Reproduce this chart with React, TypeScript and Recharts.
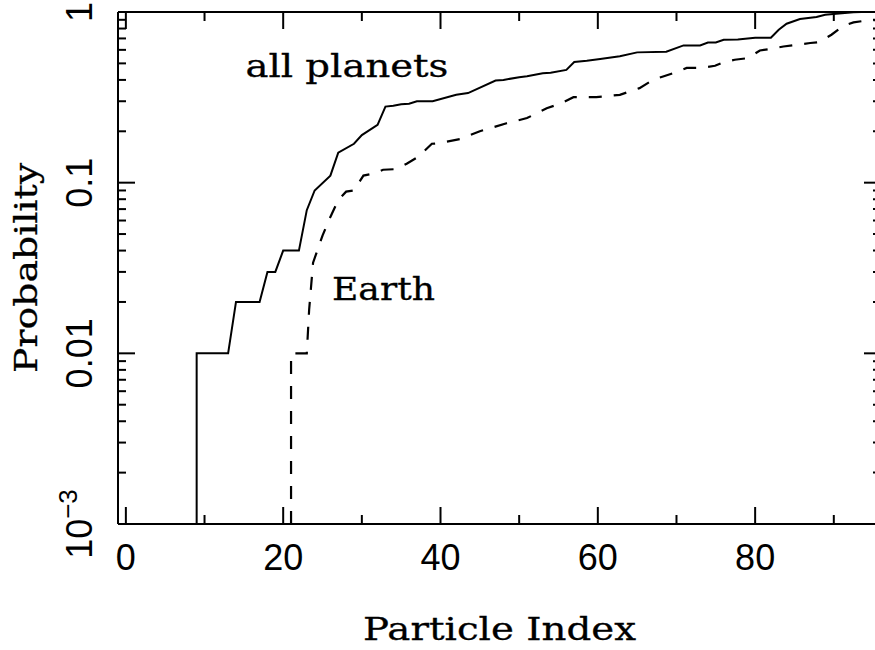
import React from "react";
import { LineChart, Line, XAxis, YAxis, ReferenceDot, Label } from "recharts";

// Cumulative probability vs particle index
const allIndex = [9, 9, 13, 14, 17, 18, 19, 20, 22, 23, 24, 26, 27, 29, 30, 32, 33, 34, 35, 36, 37, 39, 42, 43.5, 47, 48, 50, 51, 53, 54, 56, 57, 58.6, 60.3, 62.8, 65, 68.7, 70.9, 73, 74, 75, 76, 77.8, 80, 82, 83, 84, 85.7, 87.8, 88.9, 90.3, 92.5, 93.5, 96];
const allProb = [0.001, 0.01, 0.01, 0.02, 0.02, 0.03, 0.03, 0.04, 0.04, 0.069, 0.09, 0.11, 0.15, 0.169, 0.19, 0.218, 0.279, 0.282, 0.288, 0.29, 0.3, 0.3, 0.327, 0.335, 0.397, 0.4, 0.415, 0.42, 0.438, 0.44, 0.458, 0.509, 0.518, 0.53, 0.55, 0.58, 0.585, 0.637, 0.637, 0.663, 0.663, 0.688, 0.69, 0.707, 0.707, 0.787, 0.854, 0.91, 0.935, 0.964, 0.977, 0.995, 1, 1];

const earthIndex = [21, 21, 23, 23.3, 23.8, 24.5, 25, 26, 27, 28, 29, 30.2, 31.5, 32.7, 34.3, 35.7, 37.2, 38.9, 39.7, 42.5, 45, 48.4, 51, 53.5, 55.2, 56.9, 59.8, 62.8, 65.3, 67, 68.3, 70, 71.3, 73, 74.9, 75.9, 77.4, 79.1, 80.6, 81.9, 83.6, 85.3, 87, 88.2, 89.7, 91.2, 92.5, 94.2, 96];
const earthProb = [0.001, 0.01, 0.01, 0.018, 0.034, 0.042, 0.049, 0.063, 0.079, 0.0886, 0.09, 0.11, 0.113, 0.119, 0.12, 0.129, 0.142, 0.169, 0.17, 0.18, 0.2, 0.223, 0.239, 0.273, 0.29, 0.317, 0.317, 0.327, 0.358, 0.4, 0.419, 0.445, 0.47, 0.47, 0.484, 0.506, 0.525, 0.537, 0.595, 0.607, 0.628, 0.643, 0.658, 0.667, 0.736, 0.83, 0.869, 0.893, 0.9];

const xTicks = [0, 10, 20, 30, 40, 50, 60, 70, 80, 90];
const xMajor = [0, 20, 40, 60, 80];
const yTicks = [
  0.001, 0.002, 0.003, 0.004, 0.005, 0.006, 0.007, 0.008, 0.009,
  0.01, 0.02, 0.03, 0.04, 0.05, 0.06, 0.07, 0.08, 0.09,
  0.1, 0.2, 0.3, 0.4, 0.5, 0.6, 0.7, 0.8, 0.9, 1,
];
const yTickLabels: Record<string, string> = { "1": "1", "0.1": "0.1", "0.01": "0.01", "0.001": "10^-3" };

const allData = allIndex.map((x, i) => ({ x, p: allProb[i] }));
const earthData = earthIndex.map((x, i) => ({ x, p: earthProb[i] }));

const SERIF = "'DejaVu Serif', serif";
const SANS = "'Liberation Sans', Arial, sans-serif";

const isMajorY = (v: number) => {
  const l = Math.log10(v);
  return Math.abs(l - Math.round(l)) < 1e-6;
};

const BottomTick = (props: any) => {
  const { x, y, payload } = props;
  const major = xMajor.includes(payload.value);
  return (
    <g>
      <line x1={x} x2={x} y1={y} y2={y - (major ? 17 : 9)} stroke="#000" strokeWidth={2} />
      {major && (
        <text x={x} y={y + 46} textAnchor="middle" fontFamily={SANS} fontSize={36} fill="#000">
          {payload.value}
        </text>
      )}
    </g>
  );
};

const TopTick = (props: any) => {
  const { x, y, payload } = props;
  const major = xMajor.includes(payload.value);
  return <line x1={x} x2={x} y1={y} y2={y + (major ? 17 : 9)} stroke="#000" strokeWidth={2} />;
};

const LeftTick = (props: any) => {
  const { x, y, payload } = props;
  const v = payload.value;
  const major = isMajorY(v);
  const lab = yTickLabels[String(v)];
  const tx = x - 26;
  return (
    <g>
      <line x1={x} x2={x + (major ? 17 : 8)} y1={y} y2={y} stroke="#000" strokeWidth={2} />
      {major && lab && (
        <text
          x={tx}
          y={y}
          transform={`rotate(-90, ${tx}, ${y})`}
          textAnchor="middle"
          fontFamily={SANS}
          fontSize={36}
          fill="#000"
        >
          {lab.startsWith("10^") ? (
            <>
              10
              <tspan dy={-15} fontSize={26}>
                {"\u2212" + lab.slice(4)}
              </tspan>
            </>
          ) : (
            lab
          )}
        </text>
      )}
    </g>
  );
};

const RightTick = (props: any) => {
  const { x, y, payload } = props;
  const major = isMajorY(payload.value);
  return <line x1={x} x2={x - (major ? 17 : 8)} y1={y} y2={y} stroke="#000" strokeWidth={2} />;
};

const serifProps = {
  fontFamily: SERIF,
  fontSize: 32,
  fill: "#000",
  stroke: "#000",
  strokeWidth: 0.3,
  lengthAdjust: "spacingAndGlyphs",
};

const XTitle = (props: any) => {
  const vb = props.viewBox;
  return (
    <text x={vb.x + vb.width / 2} y={vb.y + 116} textAnchor="middle" textLength={273} {...serifProps}>
      Particle Index
    </text>
  );
};

const YTitle = (props: any) => {
  const vb = props.viewBox;
  const tx = vb.x + 37;
  const ty = vb.y + vb.height / 2;
  return (
    <text
      x={tx}
      y={ty}
      transform={`rotate(-90, ${tx}, ${ty})`}
      textAnchor="middle"
      textLength={210}
      {...serifProps}
    >
      Probability
    </text>
  );
};

const annot = (text: string, len: number) => (props: any) => {
  const vb = props.viewBox;
  return (
    <text x={vb.x} y={vb.y} textLength={len} {...serifProps}>
      {text}
    </text>
  );
};

export default function App() {
  return (
    <div
      style={{
        position: "absolute",
        left: 0,
        top: 0,
        width: 875,
        height: 650,
        overflow: "hidden",
        background: "#fff",
      }}
    >
      <LineChart width={900} height={650} margin={{ top: 0, right: 0, bottom: 0, left: 0 }}>
        <XAxis
          xAxisId="b"
          type="number"
          dataKey="x"
          domain={[-1, 96]}
          allowDataOverflow
          ticks={xTicks}
          interval={0}
          tick={<BottomTick />}
          tickSize={0}
          tickMargin={0}
          tickLine={false}
          axisLine={{ stroke: "#000", strokeWidth: 2 }}
          height={126}
        >
          <Label content={XTitle} />
        </XAxis>
        <XAxis
          xAxisId="t"
          orientation="top"
          type="number"
          dataKey="x"
          domain={[-1, 96]}
          allowDataOverflow
          ticks={xTicks}
          interval={0}
          tick={<TopTick />}
          tickSize={0}
          tickMargin={0}
          tickLine={false}
          axisLine={{ stroke: "#000", strokeWidth: 2 }}
          height={12}
        />
        <YAxis
          yAxisId="l"
          scale="log"
          type="number"
          dataKey="p"
          domain={[0.001, 1]}
          allowDataOverflow
          ticks={yTicks}
          interval={0}
          tick={<LeftTick />}
          tickSize={0}
          tickMargin={0}
          tickLine={false}
          axisLine={{ stroke: "#000", strokeWidth: 2 }}
          width={118}
        >
          <Label content={YTitle} />
        </YAxis>
        <YAxis
          yAxisId="r"
          orientation="right"
          scale="log"
          type="number"
          domain={[0.001, 1]}
          allowDataOverflow
          ticks={yTicks}
          interval={0}
          tick={<RightTick />}
          tickSize={0}
          tickMargin={0}
          tickLine={false}
          axisLine={{ stroke: "#000", strokeWidth: 2 }}
          width={19}
        />
        <Line
          xAxisId="b"
          yAxisId="l"
          data={allData}
          dataKey="p"
          type="linear"
          stroke="#000"
          strokeWidth={2}
          dot={false}
          isAnimationActive={false}
        />
        <Line
          xAxisId="b"
          yAxisId="l"
          data={earthData}
          dataKey="p"
          type="linear"
          stroke="#000"
          strokeWidth={2.2}
          strokeDasharray="13 12"
          dot={false}
          isAnimationActive={false}
        />
        <ReferenceDot
          xAxisId="b"
          yAxisId="l"
          x={15.2}
          y={0.417}
          r={0}
          fill="none"
          stroke="none"
          label={annot("all planets", 203)}
        />
        <ReferenceDot
          xAxisId="b"
          yAxisId="l"
          x={26.2}
          y={0.0205}
          r={0}
          fill="none"
          stroke="none"
          label={annot("Earth", 103)}
        />
      </LineChart>
    </div>
  );
}
